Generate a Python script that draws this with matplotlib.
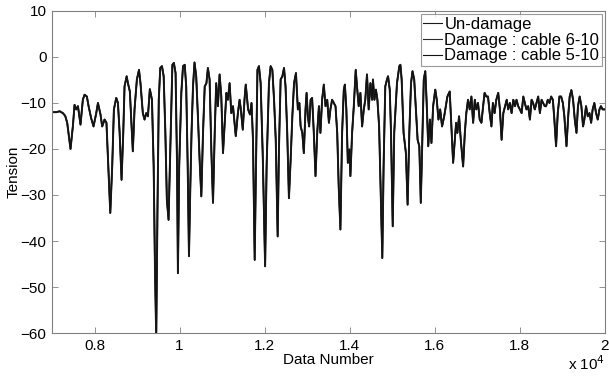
import matplotlib
matplotlib.use("Agg")
import matplotlib.pyplot as plt
from matplotlib.ticker import FuncFormatter

# sample index (Data Number) and cable tension
data_number = [
    7000, 7100, 7180, 7255, 7310, 7357, 7435, 7490, 7530, 7570, 7610, 7670, 7725, 7765,
    7820, 7860, 7920, 7976, 8040, 8080, 8140, 8180, 8235, 8280, 8330, 8370, 8415, 8455,
    8510, 8550, 8590, 8635, 8675, 8705, 8755, 8785, 8830, 8870, 8900, 8940, 8995, 9045,
    9080, 9135, 9175, 9215, 9255, 9300, 9350, 9390, 9420, 9450, 9480, 9510, 9545, 9585,
    9625, 9665, 9700, 9740, 9790, 9830, 9865, 9905, 9940, 9960, 9990, 10040, 10080, 10120,
    10155, 10190, 10220, 10250, 10280, 10315, 10350, 10390, 10430, 10470, 10510, 10550,
    10590, 10630, 10665, 10705, 10745, 10785, 10825, 10860, 10900, 10940, 10980, 11020,
    11060, 11100, 11135, 11175, 11215, 11255, 11320, 11370, 11410,
    11440, 11485, 11525, 11555, 11610, 11655, 11690, 11725, 11765, 11795, 11830, 11865,
    11905, 11955, 12010, 12045, 12100, 12140, 12180, 12220, 12260, 12305, 12335, 12375,
    12415, 12455, 12490, 12530, 12570, 12610, 12650, 12690, 12735, 12780, 12815, 12845,
    12885, 12920, 12960, 12985, 13015, 13045, 13080, 13115, 13155, 13195, 13235, 13275,
    13310, 13350, 13390, 13430, 13470, 13510, 13545, 13585, 13625, 13665, 13705, 13740,
    13780, 13820, 13860, 13885, 13920, 13955, 13990, 14015, 14055, 14095, 14140, 14170,
    14210, 14250, 14290, 14330, 14365, 14405, 14445, 14485, 14525, 14545, 14580, 14615,
    14650, 14690, 14725, 14765, 14795, 14835, 14875, 14900, 14940, 14970, 15010, 15045,
    15110, 15165,
    15190, 15220, 15265, 15320, 15360, 15400, 15440, 15475, 15515, 15555, 15595, 15635,
    15670, 15710, 15740, 15775, 15805, 15845, 15885, 15920, 15960, 16010, 16045, 16085,
    16125, 16170, 16220, 16295, 16350, 16390, 16430, 16470, 16500, 16530, 16570, 16610,
    16665, 16705, 16740, 16780, 16820, 16860, 16900, 16940, 16975, 17015, 17055, 17095,
    17135, 17170, 17210, 17250, 17290, 17330, 17365, 17405, 17445, 17490, 17530, 17570,
    17610, 17650, 17690, 17725, 17765, 17805, 17845, 17885, 17920, 17960, 18000, 18040,
    18080, 18115, 18155, 18195, 18235, 18275, 18310, 18350, 18390, 18430, 18470, 18510,
    18545, 18585, 18615, 18655, 18695, 18735, 18775, 18810, 18850, 18890, 18930, 18970,
    19010, 19045, 19095, 19135, 19170, 19210, 19250, 19290, 19330, 19365, 19405, 19445,
    19485, 19515, 19555, 19595, 19635, 19675, 19710, 19750, 19790, 19830, 19870, 19905,
    19945, 20000,
]

tension_undamaged = [
    -12.0, -12.0, -11.8, -12.2, -12.8, -14.3, -20.0, -15.1, -10.4, -11.4, -10.7, -14.7, -9.3, -8.2,
    -8.6, -10.7, -13.3, -15.1, -12.2, -10.0, -12.5, -15.1, -13.6, -14.3, -25.2, -33.9, -23.8, -11.4,
    -8.9, -10.0, -16.5, -26.7, -16.5, -6.4, -4.2, -5.7, -7.5, -15.1, -20.5, -11.4, -4.9, -2.8,
    -5.7, -12.2, -13.6, -12.2, -12.9, -7.0, -9.3, -23.8, -45.5, -61.0, -32.5, -9.3, -2.4, -2.0,
    -4.2, -16.5, -31.0, -35.4, -16.5, -1.7, -1.3, -3.5, -23.8, -47.0, -23.8, -7.8, -2.0, -1.7,
    -6.4, -23.8, -43.3, -28.8, -16.5, -6.4, -1.2, -4.2, -12.9, -22.3, -30.3, -16.5,
    -6.4, -5.7, -2.4, -4.9, -20.1, -31.7, -16.5, -5.7, -10.7, -3.8, -8.6, -20.9,
    -14.3, -7.8, -9.3, -5.7, -12.2, -10.7, -17.2, -12.2, -9.3,
    -11.4, -15.8, -9.3, -6.0, -11.4, -12.5, -10.0, -18.0, -44.1, -23.8, -2.8, -2.0,
    -5.7, -21.6, -45.5, -23.8, -5.7, -2.0, -2.8, -9.3, -18.0, -39.0, -20.1, -4.9,
    -4.2, -2.4, -6.4, -16.5, -30.7, -22.3, -12.9, -5.7, -3.5, -11.4, -10.0, -15.1,
    -16.5, -20.9, -11.4, -7.8, -12.9, -15.1, -9.3, -8.9, -16.5, -25.9, -16.5, -10.7,
    -16.5, -9.3, -6.0, -10.7, -9.3, -14.3, -11.4, -9.3, -10.0, -10.7, -16.5, -28.1,
    -37.5, -16.5, -7.1, -6.0, -11.4, -23.0, -20.1, -25.9, -16.5, -10.7, -2.8, -6.4,
    -10.7, -7.8, -15.1, -11.4, -9.3, -3.8, -11.4, -5.7, -9.3, -4.9, -9.3, -7.1,
    -9.3, -15.1, -28.1, -43.7, -23.8, -6.4, -4.9, -4.2, -7.1, -16.5, -36.8, -16.5,
    -5.7, -2.0,
    -1.7, -4.9, -16.5, -20.9, -32.1, -16.5, -5.7, -3.1, -4.9, -11.4, -18.0, -19.4,
    -31.7, -16.5, -4.9, -3.1, -9.3, -19.4, -13.6, -18.7, -10.7, -7.1, -9.3, -13.6,
    -11.4, -15.1, -12.9, -8.6, -7.5, -15.1, -23.0, -18.0, -14.3, -16.5, -12.9, -18.0,
    -23.8, -16.5, -12.2, -9.3, -11.4, -8.6, -14.3, -9.3, -11.4, -10.0, -13.6, -14.3,
    -10.7, -7.8, -8.6, -8.6, -12.2, -15.1, -10.0, -12.2, -9.3, -7.8, -11.4, -18.0,
    -12.2, -10.7, -9.3, -11.4, -10.0, -12.2, -9.3, -10.7, -9.3, -10.7, -11.4, -12.2,
    -8.6, -10.0, -11.4, -10.7, -13.6, -9.3, -10.0, -11.4, -10.0, -8.6, -12.2, -9.3,
    -10.0, -10.7, -10.7, -9.3, -10.0, -8.6, -9.3, -13.6, -19.4, -12.2, -8.6, -8.6,
    -10.0, -12.9, -19.4, -12.9, -8.6, -7.2, -9.3, -13.6, -16.5, -10.7, -8.6, -10.7,
    -15.1, -13.6, -10.7, -12.9, -12.2, -14.3, -11.4, -10.0, -12.2, -13.6, -11.4, -10.7,
    -11.4, -11.4,
]

# the damaged cases overlap the intact response almost everywhere in this window
tension_cable_6_10 = list(tension_undamaged)
tension_cable_5_10 = list(tension_undamaged)

series_labels = ["Un-damage", "Damage : cable 6-10", "Damage : cable 5-10"]
x_ticks = [8000, 10000, 12000, 14000, 16000, 18000, 20000]
y_ticks = [10, 0, -10, -20, -30, -40, -50, -60]

plt.rcParams['font.family'] = ['Liberation Sans', 'DejaVu Sans']

fig = plt.figure(figsize=(6.09, 3.78), dpi=100)
ax = fig.add_axes([0.0854, 0.119, 0.908, 0.852])

ax.plot(data_number, tension_undamaged, color='#1a1a1a', lw=1.4, label=series_labels[0])
ax.plot(data_number, tension_cable_6_10, color='#2a2a2a', lw=1.2, label=series_labels[1])
ax.plot(data_number, tension_cable_5_10, color='#111111', lw=0.9, label=series_labels[2])

ax.set_xlim(7000, 20000)
ax.set_ylim(-60, 10)
ax.set_xticks(x_ticks)
ax.set_yticks(y_ticks)
ax.xaxis.set_major_formatter(FuncFormatter(lambda v, p: "%g" % (v / 1e4)))

for s in ax.spines.values():
    s.set_color('#808080')
    s.set_linewidth(0.8)
ax.tick_params(direction='in', top=True, right=True, length=4, width=0.6,
               color='#808080', labelsize=11, pad=4)

ax.set_xlabel("Data Number", fontsize=11, labelpad=0)
ax.set_ylabel("Tension", fontsize=11, labelpad=0)
fig.text(0.932, 0.02, r"x 10$^{4}$", fontsize=11)

leg = ax.legend(loc='upper right', fontsize=12, frameon=True, fancybox=False,
                handlelength=1.1, handletextpad=0.15, borderpad=0.15, labelspacing=0.05,
                borderaxespad=0.2)
leg.get_frame().set_edgecolor('#808080')
leg.get_frame().set_linewidth(0.8)
for h in leg.get_lines():
    h.set_linewidth(0.8)

fig.savefig("out.png", dpi=100)
